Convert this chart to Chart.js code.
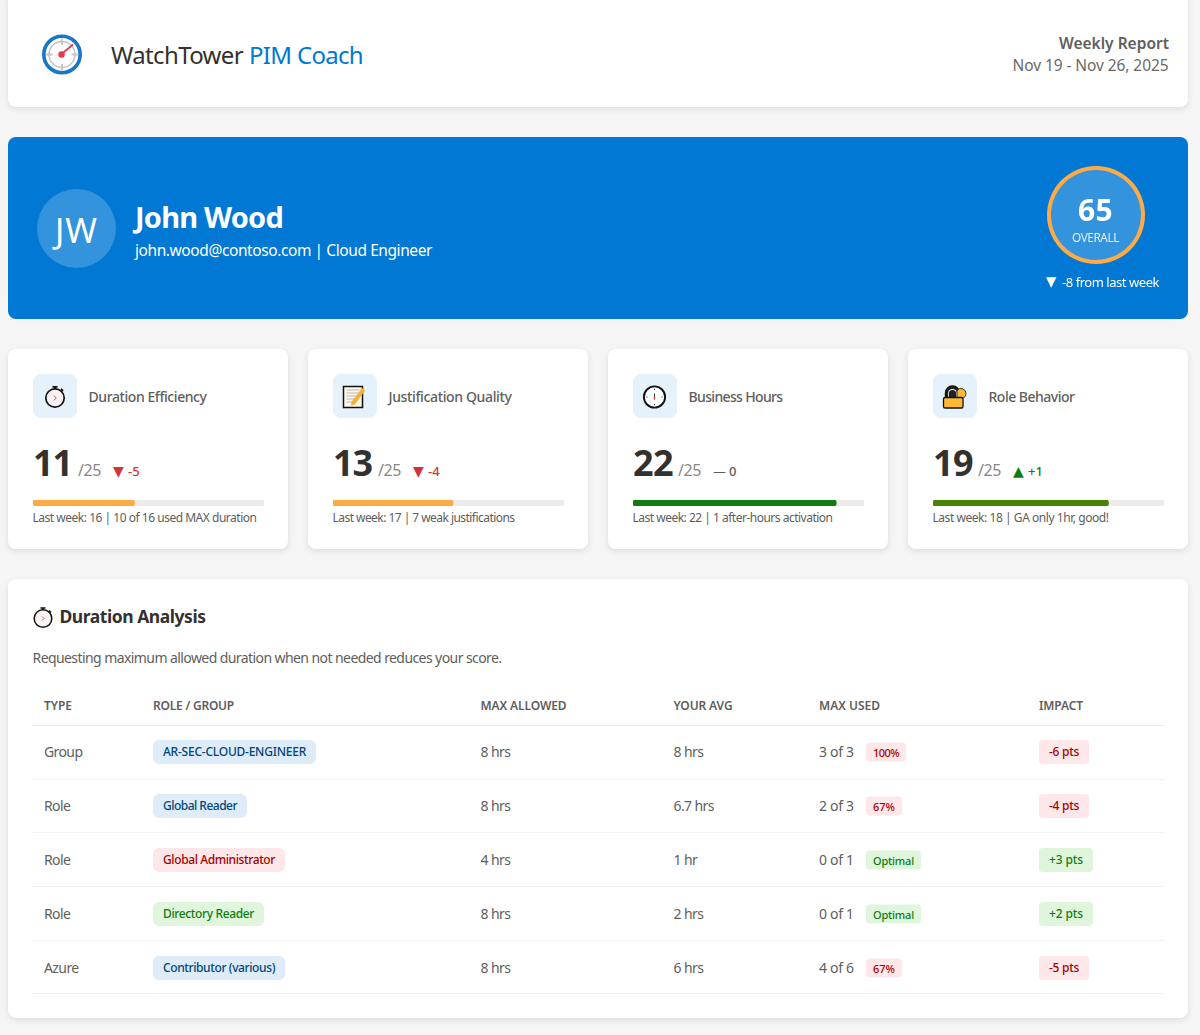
<!DOCTYPE html>
<html lang="en"><head><meta charset="utf-8"><title>WatchTower PIM Coach</title>
<script src="https://cdn.jsdelivr.net/npm/chart.js@4/dist/chart.umd.min.js"></script>
<style>
html,body{margin:0;padding:0;background:#f5f5f5;width:1200px;height:1035px;overflow:hidden}
body{position:relative;font-family:"Noto Sans",sans-serif;color:#323130}
.a{position:absolute}
.card{position:absolute;background:#fff;border-radius:8px;box-shadow:0 2px 6px rgba(0,0,0,.1)}
.t{position:absolute;white-space:nowrap;transform:translateY(-50%);line-height:1}
.pill{position:absolute;transform:translateY(-50%);white-space:nowrap;line-height:1;font-weight:500}
.blue{background:#deecf9;color:#004578}.red{background:#fde7e9;color:#a80000}.green{background:#dff6dd;color:#107c10}
canvas{position:absolute;display:block}
</style></head><body>
<script>
// ---- data ----
const reportTitle = "Weekly Report", reportRange = "Nov 19 - Nov 26, 2025";
const userName = "John Wood", userLine = "john.wood@contoso.com | Cloud Engineer", initials = "JW";
const overallScore = [65];
const overallDeltaMark = "▼", overallDelta = "-8 from last week";
const metricNames = ["Duration Efficiency","Justification Quality","Business Hours","Role Behavior"];
const metricScores = [11,13,22,19];
const metricMax = [25,25,25,25];
const metricDeltaMark = ["▼","▼","—","▲"];
const metricDelta = ["-5","-4","0","+1"];
const metricDeltaColors = ["#d13438","#d13438","#605e5c","#107c10"];
const metricBarColors = ["#ffaa44","#ffaa44","#107c10","#498205"];
const metricNotes = ["Last week: 16 | 10 of 16 used MAX duration","Last week: 17 | 7 weak justifications","Last week: 22 | 1 after-hours activation","Last week: 18 | GA only 1hr, good!"];
const tableHead = ["TYPE","ROLE / GROUP","MAX ALLOWED","YOUR AVG","MAX USED","IMPACT"];
const rowTypes = ["Group","Role","Role","Role","Azure"];
const rowRoles = ["AR-SEC-CLOUD-ENGINEER","Global Reader","Global Administrator","Directory Reader","Contributor (various)"];
const rowRoleStyle = ["blue","blue","red","green","blue"];
const rowMax = ["8 hrs","8 hrs","4 hrs","8 hrs","8 hrs"];
const rowAvg = ["8 hrs","6.7 hrs","1 hr","2 hrs","6 hrs"];
const rowUsed = ["3 of 3","2 of 3","0 of 1","0 of 1","4 of 6"];
const rowUsedTag = ["100%","67%","Optimal","Optimal","67%"];
const rowUsedStyle = ["red","red","green","green","red"];
const rowImpact = ["-6 pts","-4 pts","+3 pts","+2 pts","-5 pts"];
const rowImpactStyle = ["red","red","green","green","red"];

// ---- layout: measured text widths ----
const nameW=[118,123,94,86], noteW=[224,182,200,176], headW=[28,81,86,59,61,44];
const roleW=[143,74,112,91,112], tagW=[26,22,41,41,22], impactW=[30,30,34,34,30];

// ---- helpers ----
const B = document.body;
function fit(d,s,w,pad){const n=d.getBoundingClientRect().width-(pad||0);d.style.letterSpacing=((w-n)/s.length).toFixed(3)+'px';}
function box(x,y,w,h,css){const d=document.createElement('div');d.className='a';d.style.cssText=`left:${x}px;top:${y}px;width:${w}px;height:${h}px;${css||''}`;B.appendChild(d);return d;}
function card(x,y,w,h){const d=document.createElement('div');d.className='card';d.style.cssText=`left:${x}px;top:${y}px;width:${w}px;height:${h}px`;B.appendChild(d);return d;}
function txt(x,y,s,size,color,weight,w,extra){const d=document.createElement('div');d.className='t';d.textContent=s;d.style.cssText=`left:${x}px;top:${y}px;font-size:${size}px;color:${color||'#323130'};font-weight:${weight||400};${extra||''}`;B.appendChild(d);if(w)fit(d,s,w);return d;}
function pill(x,y,s,cls,size,padX,padY,rad,w){const d=document.createElement('div');d.className='pill '+cls;d.textContent=s;d.style.cssText=`left:${x}px;top:${y}px;font-size:${size}px;padding:${padY}px ${padX}px;border-radius:${rad}px`;B.appendChild(d);if(w)fit(d,s,w,padX*2);return d;}
function svg(x,y,w,h,inner){const d=document.createElement('div');d.className='a';d.style.cssText=`left:${x}px;top:${y}px;width:${w}px;height:${h}px`;d.innerHTML=`<svg xmlns="http://www.w3.org/2000/svg" width="${w}" height="${h}" viewBox="0 0 ${w} ${h}">${inner}</svg>`;B.appendChild(d);}

// ---- header ----
card(8,-8,1180,115);
svg(40,33,44,44,`<circle cx="22" cy="21.5" r="18.2" fill="#fff" stroke="#1a76c8" stroke-width="3.6"/><circle cx="22" cy="21.5" r="13" fill="none" stroke="#c4c4c4" stroke-width="1.5"/><path d="M22 5.5v6.5M22 31v6.5M6 21.5h6.5M31.5 21.5h6.5" stroke="#c4c4c4" stroke-width="1.8"/><path d="M21 21.5L33 11.5" stroke="#e8384a" stroke-width="1.7"/><circle cx="21.5" cy="21.5" r="3.2" fill="#e8384a"/>`);
txt(111,55,"WatchTower",24,"#323130",400,132);
txt(249,55,"PIM Coach",24,"#0078d4",400,114);
txt(1059,44,reportTitle,15.5,"#605e5c",600,110);
txt(1012.5,65.5,reportRange,15.5,"#6b6967",400,156);

// ---- hero ----
box(8,137,1180,182,"background:#0078d4;border-radius:8px");
box(37,189,79,79,"background:rgba(255,255,255,.2);border-radius:50%");
txt(55,230,initials,34,"#fff",400,43);
txt(135,216,userName,29,"#fff",700,148);
txt(135,250.5,userLine,15.5,"#fff",400,297);
box(1049,169,94,94,"background:rgba(255,255,255,.2);border-radius:50%");
const ring=document.createElement('canvas');ring.width=98;ring.height=98;ring.style.cssText="left:1046.5px;top:166px;width:98px;height:98px";B.appendChild(ring);
new Chart(ring,{type:'doughnut',data:{labels:['Overall'],datasets:[{data:overallScore,backgroundColor:['#ffaa44'],borderWidth:0}]},
 options:{responsive:false,animation:false,cutout:45,events:[],plugins:{legend:{display:false},tooltip:{enabled:false}}}});
txt(1078,209.5,String(overallScore[0]),30,"#fff",700,35);
txt(1072,237.5,"OVERALL",11.8,"#fff",400,47,"opacity:.85");
txt(1046,282,overallDeltaMark,13.5,"#fff",400,0,"font-family:'DejaVu Sans'");
txt(1062,282,overallDelta,13,"#fff",400,97);

// ---- metric cards ----
const icons=[
 `<circle cx="22" cy="24" r="9.2" fill="#fbf3f3" stroke="#111" stroke-width="1.7"/><path d="M19.5 12.8h5M22 13v2M28 15l2 2" stroke="#111" stroke-width="1.8"/><path d="M20.8 21.5l2.5 2.5-2.5 2.5" fill="none" stroke="#9a6a70" stroke-width="1"/>`,
 `<rect x="10.5" y="12.5" width="19" height="21" fill="#fff8e8" stroke="#111" stroke-width="1.5"/><path d="M13.5 16h13M13.5 19h12M13.5 22h10M13.5 25h8M13.5 28h6" stroke="#b9b9b9" stroke-width="1"/><path d="M18.5 28l10.5-14 3.2 2.4-10.4 14-3.8 1.2z" fill="#f3b13a"/>`,
 `<circle cx="21.5" cy="23" r="10.6" fill="#fff" stroke="#111" stroke-width="1.9"/><path d="M21.5 23v-3.6M21.5 14.8v1.2M21.5 30v1.2M13.3 23h1.2M28.5 23h1.2" stroke="#444" stroke-width="1"/><path d="M21.5 23v2.5" stroke="#d13438" stroke-width="1.4"/>`,
 `<path d="M12.5 24v-5a7 7 0 0 1 14 0v5z" fill="#222" stroke="#111" stroke-width="1.4"/><path d="M15 24v-4.5a4.5 4.5 0 0 1 9 0V24z" fill="#fff"/><path d="M15.8 24v-4.3a3.7 3.7 0 0 1 7.4 0V24z" fill="#222"/><path d="M24 16.5a5 5 0 0 1 9 3c0 3-2.4 5.5-5.5 5.5H24z" fill="#fdb933" stroke="#111" stroke-width=".8"/><rect x="10.5" y="23.5" width="19.5" height="10.5" rx="1.6" fill="#fdb933" stroke="#111" stroke-width="1.3"/>`
];
const cardX=[8,308,608,908];
metricNames.forEach((name,i)=>{
  const x=cardX[i];
  card(x,349,280,200);
  box(x+25,374,44,44,"background:#e5f1fb;border-radius:8px");
  svg(x+25,374,44,44,icons[i]);
  txt(x+80.5,396.5,name,14,"#605e5c",500,nameW[i]);
  txt(x+25,463,String(metricScores[i]),36,"#323130",700,i==0||i==1?39:40);
  txt(x+70,470,"/"+metricMax[i],16,"#8a8886",400,23);
  txt(x+105,470.5,metricDeltaMark[i],i==2?13:14,metricDeltaColors[i],400,0,"font-family:'DejaVu Sans'");
  txt(x+(i==2?121:120),470.5,metricDelta[i],13,metricDeltaColors[i],500);
  txt(x+24.5,518,metricNotes[i],12,"#605e5c",400,noteW[i]);
  const c=document.createElement('canvas');c.width=231;c.height=6;c.style.cssText=`left:${x+25}px;top:500px;width:231px;height:6px`;B.appendChild(c);
  new Chart(c,{type:'bar',
    data:{labels:[name],datasets:[
      {data:[metricScores[i]],backgroundColor:metricBarColors[i],borderRadius:3,borderSkipped:false,barThickness:6,order:1},
      {data:[metricMax[i]],backgroundColor:'#edebe9',borderRadius:3,borderSkipped:false,barThickness:6,order:2}
    ]},
    options:{indexAxis:'y',responsive:false,animation:false,events:[],layout:{padding:0},
      datasets:{bar:{grouped:false}},
      scales:{x:{display:false,min:0,max:metricMax[i]},y:{display:false}},
      plugins:{legend:{display:false},tooltip:{enabled:false}}}});
});

// ---- analysis card ----
card(8,579,1180,439);
svg(31,604,24,26,`<circle cx="12" cy="14.5" r="8.8" fill="#fbf3f3" stroke="#111" stroke-width="1.5"/><path d="M9.5 4h5M12 4v2M18 6.5l2 2" stroke="#111" stroke-width="1.6"/><path d="M11 12.5l2 2-2 2" fill="none" stroke="#9a6a70" stroke-width="1"/>`);
txt(59.5,617,"Duration Analysis",17.5,"#323130",700,146);
txt(32.5,658,"Requesting maximum allowed duration when not needed reduces your score.",14,"#605e5c",400,469);
const colX=[44,153,480.5,673.5,819,1039];
tableHead.forEach((s,i)=>txt(colX[i],705.5,s,12,"#605e5c",600,headW[i]));
box(32,725,1132,1,"background:#edebe9");
const rowY=[752,806,860,914,967.5];
const lineY=[779,832,886,940,993];
const cell="letter-spacing:-.6px";
rowTypes.forEach((s,i)=>{
  const y=rowY[i];
  txt(colX[0],y,s,14,"#605e5c",400,0,cell);
  pill(colX[1],y,rowRoles[i],rowRoleStyle[i],12,10,6,6,roleW[i]);
  txt(colX[2],y,rowMax[i],14,"#605e5c",400,0,cell);
  txt(colX[3],y,rowAvg[i],14,"#605e5c",400,0,cell);
  txt(colX[4],y,rowUsed[i],14,"#605e5c",400,0,"letter-spacing:-.3px");
  pill(866,y,rowUsedTag[i],rowUsedStyle[i],11,7,4,4,tagW[i]);
  pill(colX[5],y,rowImpact[i],rowImpactStyle[i],12,10,6,4,impactW[i]);
  box(32,lineY[i],1132,1,"background:#f3f2f1");
});
</script>
</body></html>
